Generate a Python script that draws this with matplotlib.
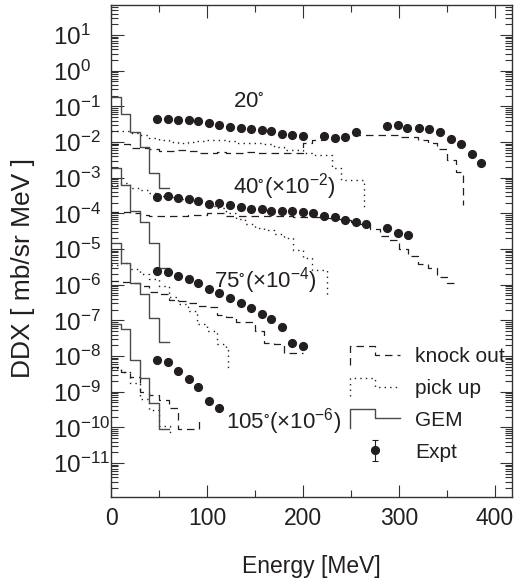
import numpy as np
import matplotlib
matplotlib.use('Agg')
import matplotlib.pyplot as plt
from matplotlib.legend_handler import HandlerBase
from matplotlib.lines import Line2D

plt.rcParams['font.family'] = 'Liberation Sans'
plt.rcParams['mathtext.fontset'] = 'custom'
plt.rcParams['mathtext.rm'] = 'Liberation Sans'
plt.rcParams['mathtext.it'] = 'Liberation Sans:italic'
plt.rcParams['mathtext.bf'] = 'Liberation Sans:bold'
plt.rcParams['mathtext.default'] = 'regular'

# ---- experimental points (energy in MeV, log10 of DDX incl. scale factor) ----
e_expt = [48, 59, 70, 81, 91, 102, 113, 124, 135, 146, 157, 167, 178, 189, 200]
e20 = e_expt + [222, 233, 244, 255, 288, 299, 309, 321, 331, 343, 354, 365, 376, 386]
y20 = [-1.355, -1.355, -1.375, -1.383, -1.403, -1.459, -1.532, -1.588, -1.616, -1.627,
       -1.655, -1.683, -1.767, -1.803, -1.828, -1.823, -1.879, -1.851, -1.728,
       -1.551, -1.523, -1.598, -1.616, -1.644, -1.711, -1.916, -2.064, -2.336, -2.580]
e40 = e_expt + [211, 222, 233, 244, 255, 266, 288, 299, 310]
y40 = [-3.533, -3.514, -3.561, -3.598, -3.65, -3.738, -3.718, -3.77, -3.835, -3.87,
       -3.88, -3.93, -3.944, -3.944, -3.96, -4.0, -4.07, -4.09, -4.2, -4.25, -4.31,
       -4.40, -4.56, -4.62]
e75 = e_expt
y75 = [-5.608, -5.636, -5.748, -5.849, -5.961, -6.121, -6.225, -6.365, -6.522, -6.645,
       -6.822, -6.970, -7.195, -7.626, -7.710]
e105 = e_expt[:7]
y105 = [-8.111, -8.176, -8.420, -8.644, -8.877, -9.253, -9.466]
rel_err = 0.1

# ---- calculations: 10 MeV bins starting at 0, (end energy, value after last edge) ----
bin_w = 10
gem20 = [-0.74, -1.21, -1.71, -2.13, -2.88, -3.30]
gem40 = [-2.74, -3.21, -3.93, -4.23, -4.84, -5.54]
gem75 = [-4.82, -5.40, -5.96, -6.25, -6.94, -7.60]
gem105 = [-7.10, -7.25, -8.11, -8.62, -9.31, -10.05]
gem_end = (60, None)

ko20 = [-2.06, -2.06, -2.17, -2.17, -2.2, -2.25, -2.25, -2.22, -2.25, -2.3, -2.3, -2.28,
        -2.3, -2.3, -2.28, -2.3, -2.3, -2.3, -2.3, -2.3, -2.04, -1.95, -1.9, -1.85,
        -1.83, -1.80, -1.80, -1.80, -1.80, -1.80, -1.85, -1.85, -1.95, -2.04, -2.2,
        -2.5, -2.83]
ko20_end = (367, -3.77)
ko40 = [-3.95, -3.95, -4.0, -4.05, -4.07, -4.07, -4.07, -4.07, -4.05, -4.05, -3.98, -4.0,
        -4.07, -4.07, -4.07, -4.07, -4.07, -4.08, -4.08, -4.1, -4.1, -4.1, -4.12, -4.15,
        -4.2, -4.25, -4.3, -4.45, -4.63, -4.75, -5.0, -5.2, -5.42, -5.53, -5.78, -5.95]
ko40_end = (360, None)
ko75 = [-5.9, -5.92, -5.95, -6.05, -6.2, -6.25, -6.43, -6.45, -6.52, -6.6, -6.62, -6.85,
        -6.9, -7.04, -7.05, -7.3, -7.64, -7.66, -7.92, -7.92]
ko75_end = (200, None)
ko105 = [-8.3, -8.45, -8.6, -9.0, -9.1, -9.22, -9.45, -10.05, -10.05]
ko105_end = (92, -9.75)

pu20 = [-1.68, -1.68, -1.75, -1.80, -1.88, -1.95, -1.99, -2.02, -2.0, -1.96, -1.94, -1.94,
        -1.96, -2.03, -2.03, -2.03, -2.05, -2.15, -2.22, -2.22, -2.3, -2.36, -2.36,
        -2.73, -3.07, -3.07, -3.07]
pu20_end = (264, -3.9)
pu40 = [-3.2, -3.16, -3.3, -3.35, -3.43, -3.5, -3.55, -3.6, -3.7, -3.75, -3.8, -3.85,
        -4.0, -4.15, -4.3, -4.4, -4.47, -4.58, -4.69, -5.03, -5.25, -5.59]
pu40_end = (225, -6.35)
pu75 = [-5.45, -5.40, -5.55, -5.7, -5.85, -6.05, -6.35, -6.55, -6.75, -7.1, -7.3, -7.65,
        -7.83]
pu75_end = (122, -8.4)
pu105 = [-8.34, -8.45, -8.75, -9.2, -9.5, -9.95]
pu105_end = (61, -10.25)

angle_labels = [r'$20^{\circ}$', r'$40^{\circ}(\times10^{-2})$',
                r'$75^{\circ}(\times10^{-4})$', r'$105^{\circ}(\times10^{-6})$']
label_pos = [(127, -1.02), (127, -3.43), (107, -6.09), (120, -10.02)]

ink = '#231f20'


def hist_xy(vals, end):
    x_end, tail = end
    xs = list(np.arange(len(vals)) * bin_w) + [x_end]
    ys = list(vals) + [vals[-1] if tail is None else tail]
    return xs, np.power(10.0, ys)


class StepHandler(HandlerBase):
    def create_artists(self, legend, orig_handle, xdescent, ydescent,
                       width, height, fontsize, trans):
        x0 = -xdescent
        xm = x0 + 0.5 * width
        x1 = x0 + width
        yc = -ydescent + 0.5 * height
        ys = [yc - 0.68 * height, yc + 0.62 * height, yc + 0.62 * height, yc, yc]
        line = Line2D([x0, x0, xm, xm, x1], ys)
        line.update_from(orig_handle)
        line.set_transform(trans)
        return [line]


fig = plt.figure(figsize=(5.19, 5.82), dpi=100)
ax = fig.add_axes([111 / 519, 85 / 582, 401 / 519, 492 / 582])
ax.set_yscale('log')

ko_style = dict(color=ink, lw=0.9, linestyle=(0, (6, 4)), drawstyle='steps-post')
pu_style = dict(color=ink, lw=1.0, linestyle=(0, (1, 3)), drawstyle='steps-post')
gem_style = dict(color='#4a4a4a', lw=1.0, linestyle='-', drawstyle='steps-post')

for vals, end in [(ko20, ko20_end), (ko40, ko40_end), (ko75, ko75_end), (ko105, ko105_end)]:
    h_ko, = ax.plot(*hist_xy(vals, end), **ko_style)
for vals, end in [(pu20, pu20_end), (pu40, pu40_end), (pu75, pu75_end), (pu105, pu105_end)]:
    h_pu, = ax.plot(*hist_xy(vals, end), **pu_style)
for vals in [gem20, gem40, gem75, gem105]:
    h_gem, = ax.plot(*hist_xy(vals, gem_end), **gem_style)

for ex, ey in [(e20, y20), (e40, y40), (e75, y75), (e105, y105)]:
    yv = np.power(10.0, ey)
    h_exp = ax.errorbar(ex, yv, yerr=yv * rel_err, fmt='o', ms=5.6, color=ink,
                        ecolor=ink, elinewidth=0.8, capsize=2.5, capthick=0.8, zorder=5)

for txt, (lx, ly) in zip(angle_labels, label_pos):
    ax.text(lx, 10 ** ly, txt, fontsize=16, color=ink, ha='left', va='baseline')

ax.set_xlim(0, 418)
ax.set_ylim(10 ** -11.953, 10 ** 1.841)

ax.set_xticks([0, 100, 200, 300, 400])
ax.set_xticks(np.arange(50, 420, 100), minor=True)
exps = list(range(-11, 2))
ax.set_yticks([10.0 ** k for k in exps])
ax.set_yticklabels([r'$10^{%d}$' % k for k in exps])
ax.yaxis.set_minor_locator(matplotlib.ticker.LogLocator(base=10, subs=np.arange(2, 10), numticks=50))
ax.yaxis.set_minor_formatter(matplotlib.ticker.NullFormatter())

ax.tick_params(which='both', direction='in', top=True, right=True, color='#333333',
               labelcolor=ink, width=0.8)
ax.tick_params(which='major', length=9)
ax.tick_params(which='minor', length=5)
ax.tick_params(axis='x', labelsize=16.5, pad=7)
ax.tick_params(axis='y', labelsize=17.5, pad=41.8)
for lab in ax.get_yticklabels():
    lab.set_horizontalalignment('left')
for sp in ax.spines.values():
    sp.set_color('#333333')
    sp.set_linewidth(1.0)

ax.set_xlabel('Energy [MeV]', fontsize=16.5, color=ink, labelpad=18)
ax.set_ylabel('DDX [ mb/sr MeV ]', fontsize=19, color=ink)
ax.yaxis.set_label_coords(-0.19, 0.465)

ax.legend([h_ko, h_pu, h_gem, h_exp], ['knock out', 'pick up', 'GEM', 'Expt'],
          handler_map={Line2D: StepHandler()},
          loc='upper left', bbox_to_anchor=(0.596, 0.305), frameon=False,
          fontsize=15, borderpad=0, borderaxespad=0, handlelength=2.4,
          handletextpad=0.72, labelspacing=0.62, labelcolor=ink)

fig.savefig('out.png', dpi=100)
